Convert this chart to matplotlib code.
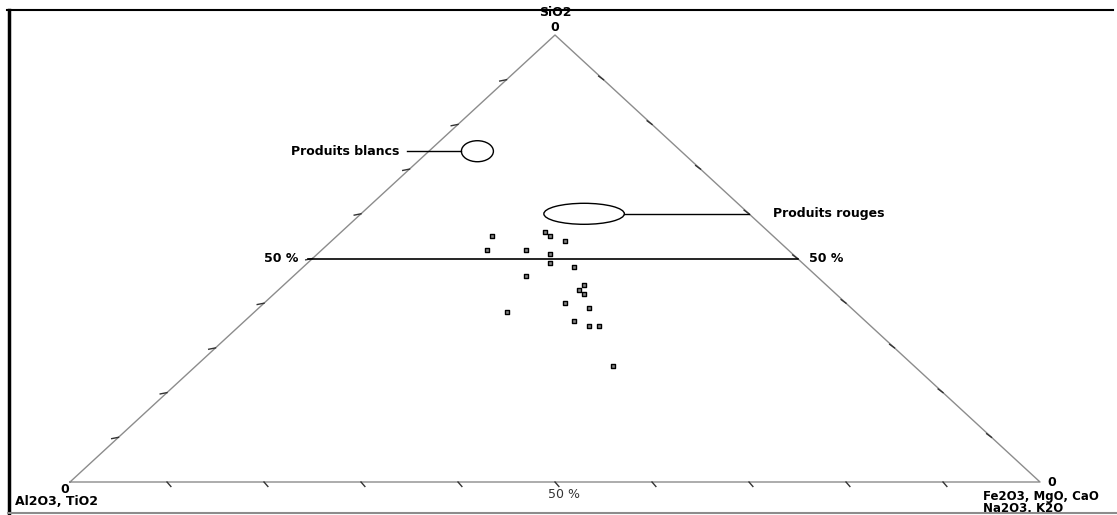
import matplotlib.pyplot as plt
from matplotlib.patches import Ellipse

plt.rcParams["font.family"] = ["DejaVu Sans"]

# compositions (%) : SiO2, Al2O3+TiO2, Fe2O3+MgO+CaO+Na2O+K2O
sio2 = [55, 52, 52, 56, 55, 54, 51, 49, 48, 46, 44, 43, 42, 40, 39, 38, 36, 35, 35, 26]
al2o3 = [29, 31, 27, 23, 23, 22, 25, 26, 24, 30, 25, 26, 26, 29, 27, 36, 30, 29, 28, 31]
fe_group = [16, 17, 21, 21, 22, 24, 24, 25, 28, 24, 31, 31, 32, 31, 34, 26, 34, 36, 37, 43]

ticks_pct = [10, 20, 30, 40, 50, 60, 70, 80, 90]

# zones (centre en %SiO2 / %Fe, largeur, hauteur en coordonnees du triangle)
zone_blancs = (74, 5, 0.033, 0.047)
zone_rouges = (60, 23, 0.083, 0.047)


def tern(a, c):
    """a = SiO2, c = groupe Fe (fractions) -> x, y du triangle."""
    return c + a / 2.0, a


fig = plt.figure(figsize=(11.17, 5.15), dpi=100)
ax = fig.add_axes([70 / 1117, 33 / 515, 970 / 1117, 447 / 515])
ax.set_xlim(0, 1)
ax.set_ylim(0, 1)
ax.axis("off")

gris = "#8c8c8c"
fs = 9
fw = "bold"
ax.plot([0, 0.5, 1, 0], [0, 1, 0, 0], color=gris, lw=1.0, clip_on=False)

for t in ticks_pct:
    f = t / 100
    ax.plot([f, f + 0.004], [0, -0.01], color="#333333", lw=1.0, clip_on=False)
    xl, yl = tern(f, 0)
    ax.plot([xl, xl - 0.007], [yl, yl - 0.003], color="#333333", lw=1.0, clip_on=False)
    xr, yr = tern(f, 1 - f)
    ax.plot([xr, xr - 0.005], [yr, yr + 0.008], color="#333333", lw=1.0, clip_on=False)

# ligne 50 %
ax.plot([0.245, 0.75], [0.5, 0.5], color="black", lw=1.2)
ax.text(0.235, 0.5, "50 %", ha="right", va="center", fontsize=fs, fontweight=fw)
ax.text(0.762, 0.5, "50 %", ha="left", va="center", fontsize=fs, fontweight=fw)
ax.text(0.509, -0.013, "50 %", ha="center", va="top", fontsize=fs, color="#333333")

# sommets
ax.text(0.5, 1.035, "SiO2", ha="center", va="bottom", fontsize=fs, fontweight=fw)
ax.text(0.5, 1.003, "0", ha="center", va="bottom", fontsize=fs, fontweight=fw)
ax.text(-0.005, -0.003, "0", ha="center", va="top", fontsize=fs, fontweight=fw)
ax.text(-0.057, -0.028, "Al2O3, TiO2", ha="left", va="top", fontsize=fs, fontweight=fw)
ax.text(1.008, 0.0, "0", ha="left", va="center", fontsize=fs, fontweight=fw)
ax.text(0.941, -0.017, "Fe2O3, MgO, CaO\nNa2O3, K2O", ha="left", va="top",
        fontsize=8.5, fontweight=fw, linespacing=0.9)

# zones
for (a, c, w, h) in (zone_blancs, zone_rouges):
    x, y = tern(a / 100, c / 100)
    ax.add_patch(Ellipse((x, y), w, h, fill=False, ec="black", lw=1.0))

xb, yb = tern(zone_blancs[0] / 100, zone_blancs[1] / 100)
ax.plot([0.347, xb - zone_blancs[2] / 2], [yb, yb], color="black", lw=1.0)
ax.text(0.34, yb, "Produits blancs", ha="right", va="center", fontsize=fs, fontweight=fw)

xr, yr = tern(zone_rouges[0] / 100, zone_rouges[1] / 100)
ax.plot([xr + zone_rouges[2] / 2, 0.7], [yr, yr], color="black", lw=1.0)
ax.text(0.725, yr, "Produits rouges", ha="left", va="center", fontsize=fs, fontweight=fw)

# echantillons
px, py = zip(*[tern(a / 100, c / 100) for a, c in zip(sio2, fe_group)])
ax.scatter(px, py, marker="s", s=9, facecolor="#888888", edgecolor="black", lw=1.0, zorder=3)

# cadre
fig.add_artist(plt.Line2D([7 / 1117, 1113 / 1117], [505 / 515, 505 / 515], color="black", lw=1.5))
fig.add_artist(plt.Line2D([8.5 / 1117, 8.5 / 1117], [2 / 515, 505 / 515], color="black", lw=2.5))
fig.add_artist(plt.Line2D([8 / 1117, 1117 / 1117], [2 / 515, 2 / 515], color=gris, lw=1.5))

fig.savefig("out.png", dpi=100)
